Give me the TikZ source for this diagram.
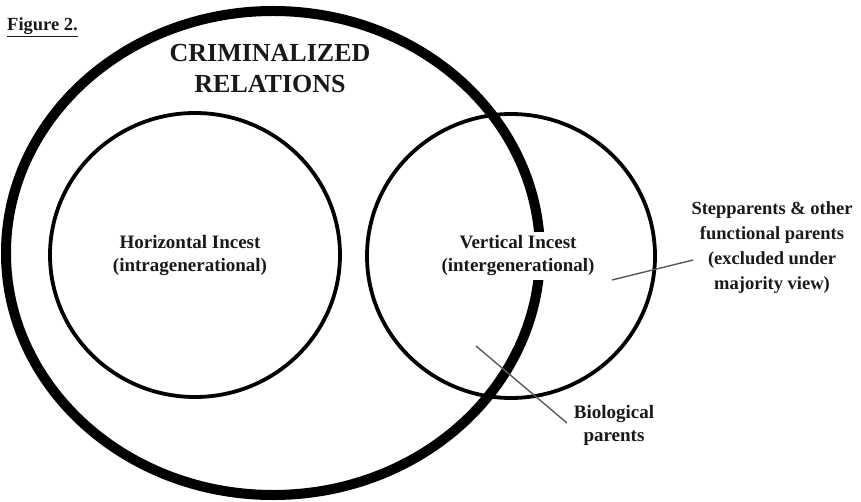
\documentclass[tikz,border=0pt]{standalone}
\usepackage{fontspec}
\setmainfont{Liberation Serif}
\usetikzlibrary{shapes.geometric}
\begin{document}
\begin{tikzpicture}[x=1pt,y=-1pt,
  ring/.style={draw=black, ellipse, inner sep=0pt, outer sep=0pt},
  lbl/.style={align=center, inner sep=1pt, text=black!90},
  leader/.style={draw=black!65, line width=1.4pt}]
\useasboundingbox (0,0) rectangle (861,502);
% big ring
\node[ring, line width=10pt, minimum width=534pt, minimum height=484pt] (big) at (273,253) {};
% inner rings
\node[ring, line width=3.8pt, minimum width=290pt, minimum height=284pt] (left) at (195,255) {};
\node[ring, line width=3.8pt, minimum width=288pt, minimum height=284pt] (right) at (511,256) {};
% titles
\node[lbl, anchor=west, font={\bfseries\fontsize{18.5}{20}\selectfont}] (fig) at (6,27) {\underline{Figure 2.}};
\node[lbl, font={\bfseries\fontsize{26}{31}\selectfont}] (crim) at (270,69) {CRIMINALIZED\\RELATIONS};
\node[lbl, font={\bfseries\fontsize{19}{23}\selectfont}] (horiz) at (190,256) {Horizontal Incest\\(intragenerational)};
\node[lbl, fill=white, inner xsep=2pt, inner ysep=4pt, font={\bfseries\fontsize{19}{23}\selectfont}] (vert) at (518,256) {Vertical Incest\\(intergenerational)};
\node[lbl, font={\bfseries\fontsize{18.5}{25}\selectfont}] (step) at (772,248) {Stepparents \& other\\functional parents\\(excluded under\\majority view)};
\node[lbl, font={\bfseries\fontsize{19}{23}\selectfont}] (bio) at (614,425) {Biological\\parents};
% leaders
\coordinate (s1) at (612,280);
\coordinate (s2) at (693,260);
\coordinate (b1) at (476,346);
\coordinate (b2) at (567,423);
\draw[leader] (s1) -- (s2);
\draw[leader] (b1) -- (b2);
\end{tikzpicture}
\end{document}
